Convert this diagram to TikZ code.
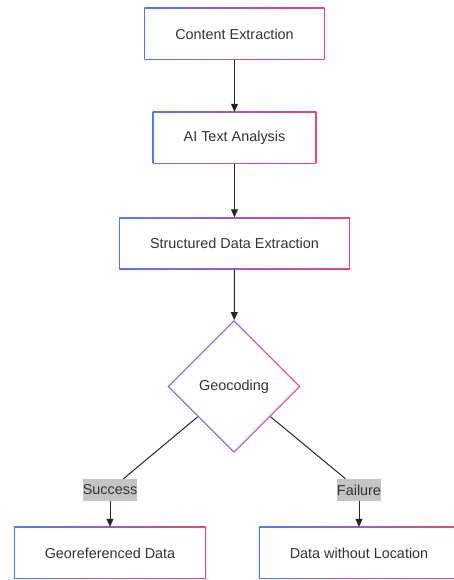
\documentclass[tikz,border=0pt]{standalone}
\usepackage{fontspec}
\setmainfont{Liberation Sans}
\usetikzlibrary{shapes.geometric,arrows.meta}
\definecolor{bordblue}{HTML}{5479F7}
\definecolor{bordpurple}{HTML}{9A5AD2}
\definecolor{bordred}{HTML}{EC4672}
\definecolor{txtgray}{HTML}{333333}
\definecolor{lblgray}{HTML}{C4C4C4}
\tikzset{
  gradbox/.style={rectangle, fill=white, minimum height=52pt, inner xsep=31pt, text=txtgray,
    font=\fontsize{14.4}{17}\selectfont,
    path picture={
      \shade[left color=bordblue, right color=bordred, middle color=bordpurple]
        (path picture bounding box.south west) rectangle (path picture bounding box.north east);
      \fill[white] ([shift={(1.2pt,1.2pt)}]path picture bounding box.south west)
        rectangle ([shift={(-1.2pt,-1.2pt)}]path picture bounding box.north east);
    }},
  graddiamond/.style={diamond, fill=white, minimum size=133pt, inner sep=0pt, text=txtgray,
    font=\fontsize{14.4}{17}\selectfont,
    path picture={
      \shade[left color=bordblue, right color=bordred, middle color=bordpurple]
        (path picture bounding box.south west) rectangle (path picture bounding box.north east);
      \fill[white] ([yshift=-1.7pt]path picture bounding box.north)
        -- ([xshift=-1.7pt]path picture bounding box.east)
        -- ([yshift=1.7pt]path picture bounding box.south)
        -- ([xshift=1.7pt]path picture bounding box.west) -- cycle;
    }},
  edgelbl/.style={fill=lblgray, text=txtgray, inner xsep=0pt, inner ysep=0pt, minimum height=22pt,
    font=\fontsize{14.4}{17}\selectfont},
  flow/.style={draw=black!85, line width=1pt}
}
\begin{document}
\begin{tikzpicture}[x=1pt,y=1pt,>={Triangle[length=8pt,width=7pt]}]
\path[fill=white,use as bounding box] (0,0) rectangle (454,580);
\node[gradbox] (extract) at (234.5,546) {Content Extraction};
\node[gradbox] (analysis) at (234.5,442) {AI Text Analysis};
\node[gradbox] (structured) at (234.5,336.5) {Structured Data Extraction};
\node[graddiamond] (geocode) at (234,193.5) {Geocoding};
\node[edgelbl] (success) at (110,90) {Success};
\node[edgelbl] (failure) at (359,90) {Failure};
\node[gradbox] (georef) at (110,27) {Georeferenced Data};
\node[gradbox] (noloc) at (359,27) {Data without Location};
\draw[flow,->] (extract) -- (analysis);
\draw[flow,->] (analysis) -- (structured);
\draw[flow,->] (structured) -- (geocode);
\draw[flow] (geocode) -- (success);
\draw[flow,->] (success) -- (georef);
\draw[flow] (geocode) -- (failure);
\draw[flow,->] (failure) -- (noloc);
\end{tikzpicture}
\end{document}
